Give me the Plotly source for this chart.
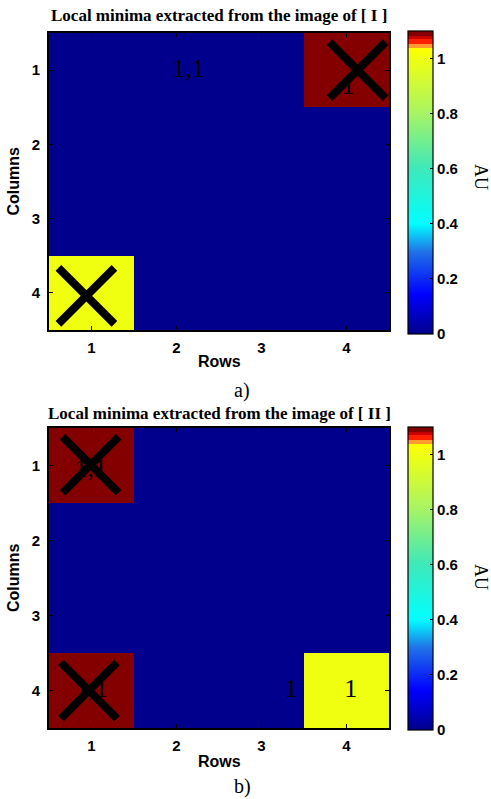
import plotly.graph_objects as go

# Grid coordinates (x axis = "Rows", y axis = "Columns")
rows = [1, 2, 3, 4]
cols = [1, 2, 3, 4]

# Panel a) values, one list per column index (y)
z_a = [
    [0, 0, 0, 1.1],
    [0, 0, 0, 0],
    [0, 0, 0, 0],
    [1, 0, 0, 0],
]
# Panel b) values
z_b = [
    [1.1, 0, 0, 0],
    [0, 0, 0, 0],
    [0, 0, 0, 0],
    [1.1, 0, 0, 1],
]

# Cross markers flagging the extracted minima
cross_a_x = [4.13, 0.94]
cross_a_y = [1.0, 4.04]
cross_b_x = [0.99, 0.97]
cross_b_y = [0.99, 4.0]

# Value labels written onto the maps
label_a_text = ["1,1", "1"]
label_a_x = [2.14, 4.02]
label_a_y = [1.0, 1.24]
label_b_text = ["1,1", "1,1", "1", "1"]
label_b_x = [0.99, 1.0, 3.35, 4.05]
label_b_y = [1.07, 4.0, 4.0, 4.0]

titles = ["Local minima extracted from the image of [ I ]",
          "Local minima extracted from the image of [ II ]"]
captions = ["a)", "b)"]
cbar_ticks = [0, 0.2, 0.4, 0.6, 0.8, 1]
cbar_ticktext = ["0", "0.2", "0.4", "0.6", "0.8", "1"]

ZMAX = 1.1
W, H = 491, 799

# jet-like map: blue -> cyan -> green -> yellow at 1, then stepped orange/red bands
colorscale = [
    [0.0, "#00008C"],
    [0.13, "#0000FF"],
    [0.27, "#2070E8"],
    [0.364, "#00FFFF"],
    [0.55, "#40E8B8"],
    [0.73, "#A8F464"],
    [0.9091, "#F0FF10"],
    [0.9455, "#FFFF00"],
    [0.9455, "#FF9A30"],
    [0.958, "#FF9A30"],
    [0.958, "#FF2000"],
    [0.972, "#FF2000"],
    [0.972, "#C80000"],
    [0.985, "#C80000"],
    [0.985, "#840000"],
    [1.0, "#840000"],
]

SANS = "Liberation Sans"
SERIF = "Liberation Serif"


def px_x(p):
    return p / W


def px_y(p):
    return 1 - p / H


# panel geometry in pixels: (top, bottom) of plot area, colourbar top/bottom
panels = [
    dict(top=33, bottom=330, cb_top=31, cb_bot=334, title_y=15, rows_y=361, cap_y=390, au_y=177),
    dict(top=428, bottom=728, cb_top=427, cb_bot=730, title_y=413, rows_y=761, cap_y=786, au_y=577),
]
LEFT, RIGHT = 49, 389
CB_LEFT, CB_W = 408, 25

fig = go.Figure()
data_sets = [
    (z_a, label_a_text, label_a_x, label_a_y, cross_a_x, cross_a_y),
    (z_b, label_b_text, label_b_x, label_b_y, cross_b_x, cross_b_y),
]

annotations = []
for i, (z, lt, lx, ly, cx, cy) in enumerate(data_sets):
    p = panels[i]
    xa = "x" if i == 0 else "x2"
    ya = "y" if i == 0 else "y2"
    fig.add_trace(go.Heatmap(
        x=rows, y=cols, z=z, xaxis=xa, yaxis=ya,
        zmin=0, zmax=ZMAX, colorscale=colorscale, showscale=True,
        colorbar=dict(
            x=px_x(CB_LEFT), xanchor="left", xpad=0,
            y=px_y(p["cb_top"]), yanchor="top", ypad=0,
            len=p["cb_bot"] - p["cb_top"], lenmode="pixels",
            thickness=CB_W, thicknessmode="pixels",
            outlinecolor="black", outlinewidth=1.2,
            tickvals=cbar_ticks, ticktext=cbar_ticktext,
            ticks="inside", ticklen=3, tickcolor="black",
            tickfont=dict(family=SANS, size=15, color="black", weight="bold"),
        ),
        hoverinfo="skip",
    ))
    fig.add_trace(go.Scatter(
        x=lx, y=ly, text=lt, mode="text", xaxis=xa, yaxis=ya,
        textfont=dict(family=SERIF, size=26, color="black"),
        showlegend=False, hoverinfo="skip",
    ))
    fig.add_trace(go.Scatter(
        x=cx, y=cy, mode="markers", xaxis=xa, yaxis=ya,
        marker=dict(symbol="x-thin", size=56, color="black",
                    line=dict(width=8, color="black")),
        showlegend=False, hoverinfo="skip",
    ))

    cx_mid = (LEFT + RIGHT) / 2
    annotations += [
        dict(text=f"<b>{titles[i]}</b>", x=px_x(cx_mid), y=px_y(p["title_y"]),
             xref="paper", yref="paper", xanchor="center", yanchor="middle",
             showarrow=False, font=dict(family=SERIF, size=17, color="black")),
        dict(text="<b>Rows</b>", x=px_x(cx_mid), y=px_y(p["rows_y"]),
             xref="paper", yref="paper", xanchor="center", yanchor="middle",
             showarrow=False, font=dict(family=SANS, size=16, color="black")),
        dict(text="<b>Columns</b>", x=px_x(13), y=px_y((p["top"] + p["bottom"]) / 2),
             xref="paper", yref="paper", xanchor="center", yanchor="middle",
             textangle=-90, showarrow=False,
             font=dict(family=SANS, size=16, color="black")),
        dict(text=captions[i], x=px_x(242), y=px_y(p["cap_y"]),
             xref="paper", yref="paper", xanchor="center", yanchor="middle",
             showarrow=False, font=dict(family=SERIF, size=20, color="black")),
        dict(text="AU", x=px_x(481), y=px_y(p["au_y"]),
             xref="paper", yref="paper", xanchor="center", yanchor="middle",
             textangle=90, showarrow=False,
             font=dict(family=SERIF, size=18, color="black")),
    ]

axis_common = dict(
    showline=True, linecolor="black", linewidth=1.8, mirror="ticks",
    ticks="inside", ticklen=4, tickcolor="black",
    tickfont=dict(family=SANS, size=15, color="black", weight="bold"),
    showgrid=False, zeroline=False, tickvals=[1, 2, 3, 4],
)

layout = dict(
    width=W, height=H,
    margin=dict(l=0, r=0, t=0, b=0),
    paper_bgcolor="white", plot_bgcolor="white",
    showlegend=False,
    annotations=annotations,
)
for i, p in enumerate(panels):
    sx = "" if i == 0 else "2"
    layout["xaxis" + sx] = dict(
        axis_common, domain=[px_x(LEFT), px_x(RIGHT)], range=[0.5, 4.5],
        anchor="y" + sx, ticklabelstandoff=3,
    )
    layout["yaxis" + sx] = dict(
        axis_common, domain=[px_y(p["bottom"]), px_y(p["top"])], range=[4.5, 0.5],
        anchor="x" + sx, ticklabelstandoff=4,
    )

fig.update_layout(**layout)
fig.write_html("out.html")
